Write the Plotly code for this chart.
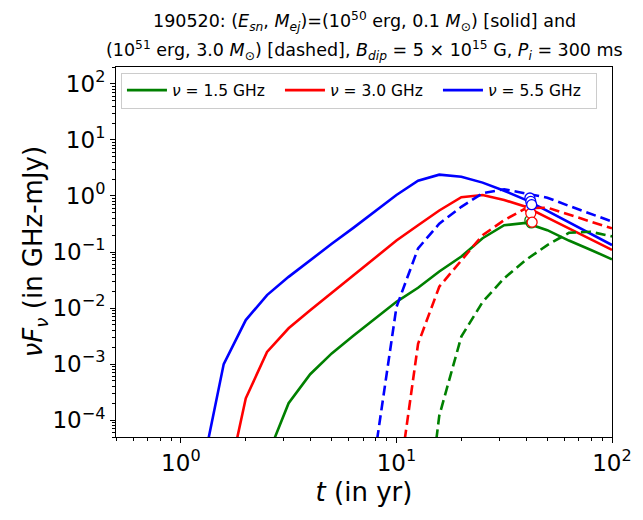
import plotly.graph_objects as go

# --- values (t in yr, nu*F_nu in GHz-mJy) ---
T_YR = [1.26, 1.58, 2.0, 2.51, 3.16, 3.98, 5.01, 6.31, 7.94, 10.0,
        12.6, 15.8, 20.0, 25.1, 31.6, 39.8, 50.1, 63.1, 79.4, 100.0]

# solid: (1e50 erg, 0.1 Msun)
SOLID_1P5 = [None, None, None, 2.2e-5, 2.0e-4, 6.6e-4, 1.55e-3, 3.2e-3, 6.4e-3, 0.0129,
             0.023, 0.045, 0.083, 0.176, 0.30, 0.33, 0.245, 0.16, 0.11, 0.074]
SOLID_3P0 = [None, 3.7e-6, 2.45e-4, 1.65e-3, 4.35e-3, 9.1e-3, 0.0186, 0.038, 0.078, 0.16,
             0.30, 0.55, 0.95, 1.04, 0.85, 0.64, 0.41, 0.26, 0.17, 0.109]
SOLID_5P5 = [1.4e-5, 1.0e-3, 6.1e-3, 0.017, 0.036, 0.072, 0.14, 0.27, 0.53, 1.04,
             1.87, 2.4, 2.2, 1.73, 1.24, 0.85, 0.54, 0.34, 0.21, 0.133]

# dashed: (1e51 erg, 3.0 Msun)
DASHED_1P5 = [None, None, None, None, None, None, None, None, None, None,
              1e-7, 1.2e-4, 3.1e-3, 0.0128, 0.034, 0.072, 0.133, 0.22, 0.23, 0.19]
DASHED_3P0 = [None, None, None, None, None, None, None, None, None, 3.9e-6,
              2.3e-3, 0.024, 0.072, 0.20, 0.37, 0.60, 0.62, 0.46, 0.35, 0.265]
DASHED_5P5 = [None, None, None, None, None, None, None, None, 2.4e-5, 0.0104,
              0.116, 0.32, 0.64, 1.12, 1.32, 1.12, 0.93, 0.665, 0.48, 0.35]

# open circles near the observation epoch
OBS_T_1P5 = [41.6, 42.2]
OBS_F_1P5 = [0.37, 0.33]
OBS_T_3P0 = [41.6, 42.0, 42.6]
OBS_F_3P0 = [0.60, 0.49, 0.34]
OBS_T_5P5 = [41.6, 42.0, 42.4]
OBS_F_5P5 = [0.92, 0.80, 0.70]

LABELS = ["<i>ν</i> = 1.5 GHz", "<i>ν</i> = 3.0 GHz", "<i>ν</i> = 5.5 GHz"]
COLORS = ["#008000", "#ff0000", "#0000ff"]

FONT = "DejaVu Sans"

fig = go.Figure()

solids = [SOLID_1P5, SOLID_3P0, SOLID_5P5]
dashes = [DASHED_1P5, DASHED_3P0, DASHED_5P5]
obs = [(OBS_T_1P5, OBS_F_1P5), (OBS_T_3P0, OBS_F_3P0), (OBS_T_5P5, OBS_F_5P5)]

for lab, col, ys in zip(LABELS, COLORS, solids):
    fig.add_trace(go.Scatter(x=T_YR, y=ys, mode="lines", name=lab,
                             line=dict(color=col, width=2.6)))
for col, ys in zip(COLORS, dashes):
    fig.add_trace(go.Scatter(x=T_YR, y=ys, mode="lines", showlegend=False,
                             line=dict(color=col, width=2.6, dash="10px,5px")))
for col, (ot, of) in zip(COLORS, obs):
    fig.add_trace(go.Scatter(x=ot, y=of, mode="markers", showlegend=False,
                             marker=dict(symbol="circle", size=10, color="white",
                                         line=dict(color=col, width=1.3))))

def minor_vals(lo, hi):
    out = []
    for e in range(lo, hi):
        for k in range(2, 10):
            out.append(k * 10.0 ** e)
    return out

def pow_label(e):
    s = str(e) if e >= 0 else "\u2212" + str(-e)
    return "10<sup>" + s + "</sup>"

x_major = [1, 10, 100]
y_exps = list(range(-4, 3))

axis_common = dict(
    type="log", showline=True, linecolor="black", linewidth=1, mirror=True,
    ticks="outside", ticklen=5, tickwidth=1, tickcolor="black",
    showgrid=False, zeroline=False, automargin=False,
    tickfont=dict(family=FONT, size=23, color="black"),
)

fig.update_xaxes(
    **axis_common,
    range=[-0.30103, 2],
    tickmode="array", tickvals=x_major, ticktext=[pow_label(e) for e in range(0, 3)],
    minor=dict(tickmode="array", tickvals=minor_vals(-1, 2), ticks="outside",
               ticklen=3, tickwidth=1, tickcolor="black"),
    title=dict(text="<i>t</i> (in yr)", font=dict(family=FONT, size=26, color="black"),
               standoff=8),
)
fig.update_yaxes(
    **axis_common,
    range=[-4.30103, 2.30103],
    tickmode="array", tickvals=[10.0 ** e for e in y_exps],
    ticktext=[pow_label(e) for e in y_exps],
    minor=dict(tickmode="array", tickvals=minor_vals(-5, 3), ticks="outside",
               ticklen=3, tickwidth=1, tickcolor="black"),
)

# y-axis title as a rotated annotation so it sits where the reference has it
fig.add_annotation(text="<i>νF</i><sub><i>ν</i></sub> (in GHz-mJy)", textangle=-90,
                   xref="paper", yref="paper", x=-0.165, y=0.5, xanchor="center",
                   yanchor="middle", showarrow=False,
                   font=dict(family=FONT, size=26, color="black"))

title1 = ("190520: (<i>E</i><sub><i>sn</i></sub>, <i>M</i><sub><i>ej</i></sub>)=(10<sup>50</sup> erg, "
          "0.1 <i>M</i><sub>⊙</sub>) [solid] and")
title2 = ("(10<sup>51</sup> erg, 3.0 <i>M</i><sub>⊙</sub>) [dashed], <i>B</i><sub><i>dip</i></sub> = "
          "5 × 10<sup>15</sup> G, <i>P</i><sub><i>i</i></sub> = 300 ms")

fig.add_annotation(text=title1, xref="paper", yref="paper", x=0.5, y=1, yanchor="middle",
                   yshift=46, showarrow=False, font=dict(family=FONT, size=17.5, color="black"))
fig.add_annotation(text=title2, xref="paper", yref="paper", x=0.5, y=1, yanchor="middle",
                   yshift=17, showarrow=False, font=dict(family=FONT, size=17.5, color="black"))

# the page body adds an 8px margin, so the figure is 8px smaller and shifted
fig.update_layout(
    width=635, height=512,
    margin=dict(l=108, r=31, t=59, b=83),
    plot_bgcolor="white", paper_bgcolor="white",
    font=dict(family=FONT, color="black"),
    legend=dict(orientation="h", x=0.01, y=0.985, xanchor="left", yanchor="top",
                bgcolor="rgba(255,255,255,0.8)", bordercolor="#cccccc", borderwidth=1,
                font=dict(family=FONT, size=15.5, color="black"),
                entrywidth=103, entrywidthmode="pixels", itemwidth=40),
)

fig.write_html("out.html")
